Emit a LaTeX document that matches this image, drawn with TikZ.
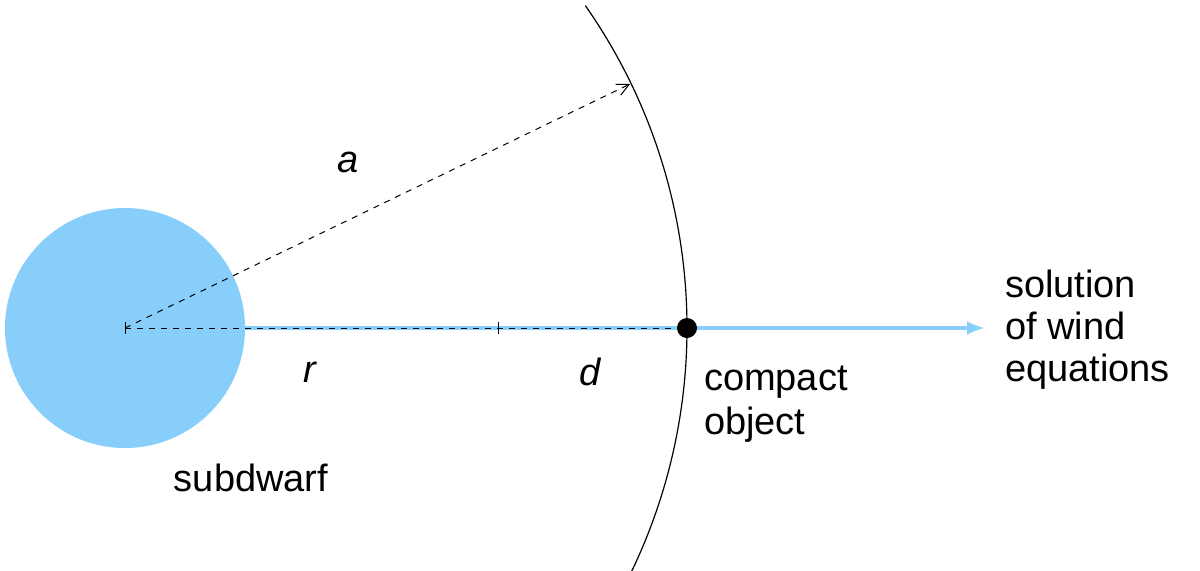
\documentclass[tikz,border=0pt]{standalone}
\usepackage{fontspec}
\setmainfont{Liberation Sans}
\usetikzlibrary{arrows.meta}
\definecolor{sky}{RGB}{135,206,250}
\begin{document}
\begin{tikzpicture}[x=0.5pt,y=-0.5pt,
  lbl/.style={font=\fontsize{19}{20}\selectfont},
  dsh/.style={dashed,line width=0.5pt}]
\useasboundingbox (0,0) rectangle (1200,570);
\coordinate (c) at (125,328);
\node[circle,fill=sky,minimum size=120pt,inner sep=0pt] (star) at (c) {};
\coordinate (tip) at (985,328);
\draw[sky,line width=2pt,-{Latex[length=9pt,width=7pt]}] (245,328) -- (tip);
\node[circle,fill=black,minimum size=10pt,inner sep=0pt] (co) at (687,328) {};
\draw[dsh] (c) -- (co);
\draw[line width=0.5pt] (125,322) -- (125,334) (498,322) -- (498,334);
\coordinate (ae) at (630,84);
\draw[dsh,-{Straight Barb[length=6pt,width=6pt]}] (c) -- (ae);
\draw[line width=0.6pt] (c) ++(-35:562) arc[start angle=-35,end angle=36,radius=562];
\node[lbl,font=\fontsize{19}{20}\selectfont\itshape] (a) at (348,162) {a};
\node[lbl,font=\fontsize{19}{20}\selectfont\itshape] (r) at (310,372) {r};
\node[lbl,font=\fontsize{19}{20}\selectfont\itshape] (d) at (590,372) {d};
\node[lbl,anchor=west,align=left] (cl) at (697,404) {compact\\[2pt]object};
\node[lbl] (sl) at (251,478) {subdwarf};
\node[lbl,anchor=west,align=left,font=\fontsize{19}{21}\selectfont] (wl) at (998,330) {solution\\of wind\\equations};
\end{tikzpicture}
\end{document}
